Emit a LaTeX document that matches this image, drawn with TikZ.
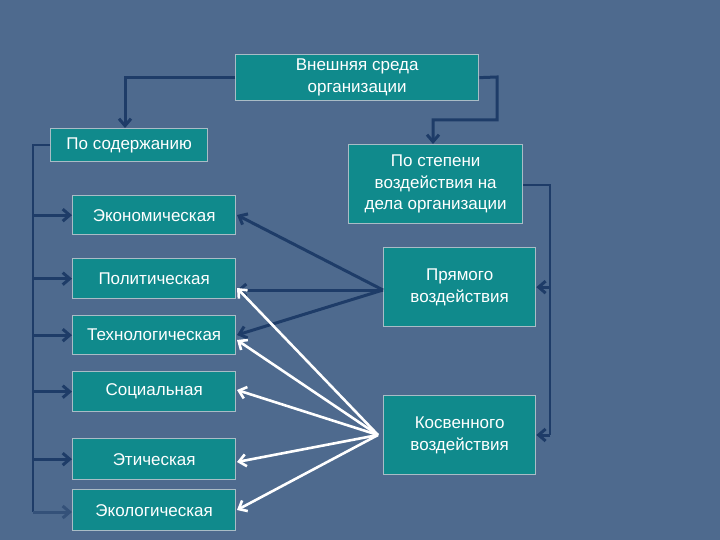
\documentclass[tikz,border=0pt]{standalone}
\usepackage{fontspec}
\setmainfont{Liberation Sans}
\usetikzlibrary{arrows.meta}
\definecolor{bg}{HTML}{4E6A8E}
\definecolor{boxf}{HTML}{108A8C}
\definecolor{boxd}{HTML}{A9BCC6}
\definecolor{dk}{HTML}{1E3C68}
\tikzset{
 bx/.style={draw=boxd,line width=1.3pt,fill=boxf,text=white,align=center,font=\fontsize{17}{21.5}\selectfont,inner sep=0pt},
 dka/.style={draw=dk,line width=3pt,-{Straight Barb[length=7pt,width=12pt]}},
 dkl/.style={draw=dk,line width=2pt},
 wa/.style={draw=white,line width=2.6pt,-{Straight Barb[length=7pt,width=12pt]}},
}
\newcommand{\bxn}[6]{\node[bx,minimum width=#4-#2,minimum height=#5-#3,anchor=north west] (#1) at (#2,#3) {#6};}
\begin{document}
\begin{tikzpicture}[x=1pt,y=-1pt]
\fill[bg] (0,0) rectangle (720,540);
\useasboundingbox (0,0) rectangle (720,540);
% connectors first (behind boxes)
\path (0,0) coordinate (o);
\bxn{top}{235}{54}{478}{100}{Внешняя среда\\организации}
\bxn{cont}{50}{128}{207}{161}{По содержанию}
\bxn{deg}{348}{144}{522}{223}{По степени\\воздействия на\\дела организации}
\bxn{eco}{72}{195}{235}{234}{Экономическая}
\bxn{pol}{72}{258}{235}{298}{Политическая}
\bxn{tech}{72}{315}{235}{354}{Технологическая}
\bxn{soc}{72}{371}{235}{411}{Социальная}
\bxn{eth}{72}{438}{235}{479}{Этическая}
\bxn{ecol}{72}{489}{235}{530}{Экологическая}
\bxn{dir}{383}{247}{535}{326}{Прямого\\воздействия}
\bxn{ind}{383}{395}{535}{474}{Косвенного\\воздействия}
\draw[dka] (top.west) -| (cont.north -| 125,0);
\coordinate (t1) at (497,77); \coordinate (t2) at (497,120); \coordinate (t3) at (433,120);
\draw[dka] (top.east) -- (t1) -- (t2) -- (t3) -- (t3 |- deg.north);
\coordinate (lb) at (33,145); \coordinate (le) at (33,512);
\draw[dkl] (cont.west |- lb) -- (lb) -- (le);
\foreach \n in {eco,pol,tech,soc,eth}{\draw[dka] (33,0 |- \n.west) -- (\n.west);}
\draw[dka,draw=dk!55!bg] (le) -- (ecol.west |- le);
\coordinate (rb) at (550,185); \coordinate (re) at (550,435);
\draw[dkl] (deg.east |- rb) -- (rb) -- (re);
\draw[dka] (550,0 |- dir.east) -- (dir.east);
\draw[dka] (re) -- (ind.east |- re);
\coordinate (dp) at (383,290);
\draw[dka] (dp) -- (237,215);
\draw[dka] (dp) -- (237,290);
\draw[dka] (dp) -- (237,335);
\coordinate (ip) at (378,435);
\foreach \y in {288,340,390,462,510}{\draw[wa] (ip) -- (237,\y);}
\end{tikzpicture}
\end{document}
